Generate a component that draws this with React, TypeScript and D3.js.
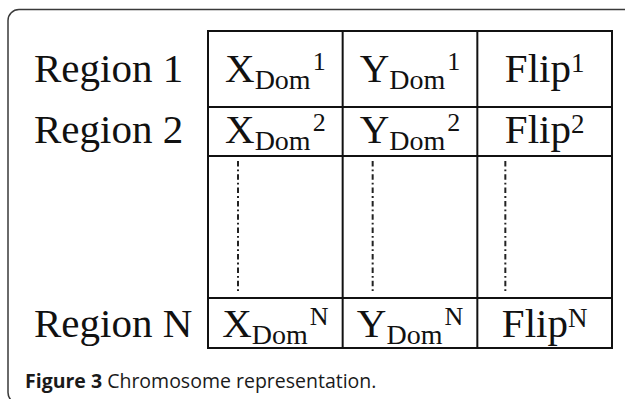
import React, { useRef, useEffect } from "react";
import * as d3 from "d3";

// Table content
const regions = ["Region 1", "Region 2", "Region N"];
const regionIndex = ["1", "2", "N"];
const columns = ["X", "Y", "Flip"];
const domSubscript = ["Dom", "Dom", ""];
const captionBold = "Figure 3";
const captionText = " Chromosome representation.";

const ChromosomeTable = () => {
  const svgRef = useRef<SVGSVGElement | null>(null);

  useEffect(() => {
    const width = 625;
    const height = 399;
    const svg = d3.select(svgRef.current).attr("width", width).attr("height", height);
    svg.selectAll("*").remove();

    // outer rounded frame
    svg
      .append("rect")
      .attr("x", 8)
      .attr("y", 9.5)
      .attr("width", 628)
      .attr("height", 394)
      .attr("rx", 11)
      .attr("fill", "none")
      .attr("stroke", "#3a3a3a")
      .attr("stroke-width", 1.5);

    // layout of the table
    const table = { left: 208, right: 612 };
    // row bands: [top, bottom, baseline]; the empty middle band holds the dots
    const rowBands = [
      { top: 31, bottom: 107, base: 82 },
      { top: 107, bottom: 156, base: 143 },
      { top: 298, bottom: 348, base: 337 },
    ];
    const dotsTop = 161;
    const dotsBottom = 294;

    const x = d3.scaleBand().domain(columns).range([table.left, table.right]).padding(0);

    const g = svg.append("g");

    // grid lines
    const hLines = [31, 107, 156, 298, 348];
    g.selectAll(".hline")
      .data(hLines)
      .join("line")
      .attr("x1", table.left)
      .attr("x2", table.right)
      .attr("y1", (d) => d)
      .attr("y2", (d) => d)
      .attr("stroke", "#111")
      .attr("stroke-width", 2);

    const vLines = [...columns.map((c) => x(c) as number), table.right];
    g.selectAll(".vline")
      .data(vLines)
      .join("line")
      .attr("x1", (d) => d)
      .attr("x2", (d) => d)
      .attr("y1", 30)
      .attr("y2", 349)
      .attr("stroke", "#111")
      .attr("stroke-width", 2);

    // dash-dot "continuation" lines
    g.selectAll(".dots")
      .data(columns)
      .join("line")
      .attr("x1", (c, i) => (x(c) as number) + (i === 2 ? 28 : 30))
      .attr("x2", (c, i) => (x(c) as number) + (i === 2 ? 28 : 30))
      .attr("y1", dotsTop)
      .attr("y2", dotsBottom)
      .attr("stroke", "#222")
      .attr("stroke-width", 2)
      .attr("stroke-dasharray", "5.5,3,1.8,3");

    const serif = "'Liberation Serif', 'Times New Roman', serif";

    // region labels
    g.selectAll(".region")
      .data(regions)
      .join("text")
      .attr("x", 34)
      .attr("y", (d, i) => rowBands[i].base)
      .attr("font-family", serif)
      .attr("font-size", 41)
      .attr("fill", "#111")
      .text((d) => d);

    // cells
    regions.forEach((r, ri) => {
      const band = rowBands[ri];
      columns.forEach((c, ci) => {
        const cx = (x(c) as number) + x.bandwidth() / 2;
        const t = g
          .append("text")
          .attr("x", cx)
          .attr("y", band.base)
          .attr("text-anchor", "middle")
          .attr("font-family", serif)
          .attr("fill", "#111");
        t.append("tspan").attr("font-size", 41).text(c);
        if (domSubscript[ci]) {
          t.append("tspan").attr("font-size", 28).attr("dy", 7).text(domSubscript[ci]);
          t.append("tspan")
            .attr("font-size", 26)
            .attr("dx", 2)
            .attr("dy", -19)
            .text(regionIndex[ri]);
        } else {
          t.append("tspan").attr("font-size", 27).attr("dy", -10).text(regionIndex[ri]);
        }
      });
    });

    // caption
    const cap = svg
      .append("text")
      .attr("x", 25)
      .attr("y", 388)
      .attr("font-family", "'Open Sans', sans-serif")
      .attr("font-size", 19.5)
      .attr("font-weight", 500)
      .attr("fill", "#1a1a1a");
    cap.append("tspan").attr("font-weight", "bold").text(captionBold);
    cap.append("tspan").text(captionText);
  }, []);

  return (
    <div style={{ position: "fixed", left: 0, top: 0, width: 625, height: 399, background: "#fff" }}>
      <svg ref={svgRef} style={{ display: "block" }}></svg>
    </div>
  );
};

export default function App() {
  return <ChromosomeTable />;
}
